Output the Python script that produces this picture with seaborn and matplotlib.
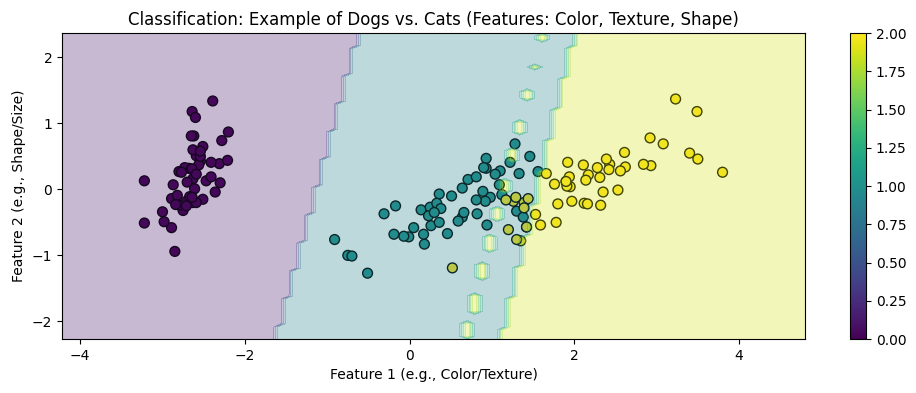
import numpy as np
import pandas as pd
import matplotlib
matplotlib.use("Agg")
import matplotlib.pyplot as plt
import seaborn as sns

# ---------- Data ----------

class0_x = [-2.68, -2.71, -2.89, -2.75, -2.73, -2.28, -2.82, -2.63, -2.89, -2.67,
            -2.51, -2.61, -2.79, -3.22, -2.64, -2.39, -2.62, -2.65, -2.20, -2.59,
            -2.31, -2.54, -3.22, -2.30, -2.36, -2.51, -2.47, -2.56, -2.64, -2.63,
            -2.59, -2.41, -2.65, -2.60, -2.64, -2.87, -2.63, -2.80, -2.98, -2.59,
            -2.77, -2.85, -3.00, -2.41, -2.21, -2.71, -2.54, -2.84, -2.54, -2.70]
class0_y = [0.32, -0.18, -0.14, -0.32, 0.33, 0.74, -0.09, 0.16, -0.58, -0.11,
            0.65, 0.01, -0.24, -0.51, 1.18, 1.34, 0.81, 0.31, 0.87, 0.51,
            0.39, 0.43, 0.13, 0.10, -0.04, -0.15, 0.13, 0.37, 0.31, -0.20,
            -0.20, 0.41, 0.81, 1.09, -0.12, 0.07, 0.60, 0.27, -0.49, 0.23,
            0.26, -0.94, -0.34, 0.19, 0.44, -0.25, 0.50, -0.23, 0.58, 0.11]

class1_x = [1.28, 0.93, 1.46, 0.18, 1.09, 0.64, 1.10, -0.75, 1.04, -0.01,
            -0.51, 0.51, 0.26, 0.98, -0.17, 0.93, 0.66, 0.24, 0.94, 0.05,
            1.12, 0.36, 1.30, 0.92, 0.71, 0.90, 1.33, 1.56, 0.81, -0.31,
            -0.07, -0.19, 0.14, 1.38, 0.59, 0.81, 1.22, 0.82, 0.25, 0.17,
            0.46, 0.89, 0.23, -0.70, 0.36, 0.33, 0.38, 0.64, -0.91, 0.30]
class1_y = [0.69, 0.32, 0.50, -0.83, 0.07, -0.42, 0.28, -1.00, 0.23, -0.72,
            -1.27, -0.10, -0.55, -0.12, -0.25, 0.47, -0.35, -0.33, -0.54, -0.58,
            -0.08, -0.07, -0.33, -0.18, 0.15, 0.33, 0.24, 0.27, -0.16, -0.37,
            -0.71, -0.68, -0.31, -0.42, -0.48, 0.19, 0.41, -0.37, -0.27, -0.68,
            -0.67, -0.03, -0.40, -1.01, -0.50, -0.21, -0.29, 0.02, -0.76, -0.35]

class2_x = [2.53, 1.42, 2.62, 1.97, 2.35, 3.40, 0.52, 2.93, 2.32, 2.92,
            1.66, 1.80, 2.17, 1.35, 1.59, 1.90, 1.95, 3.49, 3.80, 1.30,
            2.43, 1.20, 3.50, 1.39, 2.28, 2.61, 1.26, 1.29, 2.12, 2.39,
            2.84, 3.23, 2.16, 1.44, 1.78, 3.08, 2.14, 1.91, 1.17, 2.11,
            2.31, 1.92, 1.42, 2.56, 2.42, 1.94, 1.53, 1.76, 1.90, 1.39]
class2_y = [-0.01, -0.57, 0.34, -0.18, -0.04, 0.55, -1.19, 0.36, -0.24, 0.78,
            0.24, -0.22, 0.22, -0.78, -0.54, 0.12, 0.04, 1.18, 0.26, -0.76,
            0.38, -0.61, 0.46, -0.20, 0.33, 0.56, -0.18, -0.12, -0.21, 0.46,
            0.38, 1.37, -0.22, -0.14, -0.50, 0.69, 0.14, 0.05, -0.16, 0.37,
            0.18, 0.41, -0.57, 0.28, 0.30, 0.19, -0.38, 0.08, 0.12, -0.28]

# decision boundaries (x position at the bottom and top of the plot)
boundary_y = [-2.27, 2.37]
boundary01_x = [-1.62, -0.62]
boundary12_x = [1.12, 2.02]

# small isolated class-2 spots inside the class-1 region
island_x = [1.61, 1.51, 1.42, 1.31, 1.23, 1.17, 1.05, 0.96, 0.87, 0.79, 0.70]
island_y = [2.29, 1.86, 1.41, 0.95, 0.52, 0.06, -0.37, -0.82, -1.24, -1.72, -2.13]
island_h = [0.05, 0.04, 0.07, 0.10, 0.09, 0.09, 0.11, 0.12, 0.13, 0.13, 0.12]

x_range = [-4.22, 4.80]
y_range = [-2.27, 2.37]

# ---------- Build frames ----------

df = pd.DataFrame({
    "x": class0_x + class1_x + class2_x,
    "y": class0_y + class1_y + class2_y,
    "label": [0] * len(class0_x) + [1] * len(class1_x) + [2] * len(class2_x),
})

xs = np.linspace(x_range[0], x_range[1], 100)
ys = np.linspace(y_range[0], y_range[1], 100)
xx, yy = np.meshgrid(xs, ys)

b01 = np.interp(yy, boundary_y, boundary01_x)
b12 = np.interp(yy, boundary_y, boundary12_x)
zz = (xx > b01).astype(float) + (xx > b12).astype(float)

for cx, cy, ch in zip(island_x, island_y, island_h):
    col = np.argmin(np.abs(xs - cx))
    rows = np.abs(ys - cy) <= max(ch, (ys[1] - ys[0]) / 2)
    zz[rows, col] = 2

# ---------- Plot ----------

cmap = plt.get_cmap("viridis")
palette = {0: cmap(0.0), 1: cmap(0.5), 2: cmap(1.0)}

fig = plt.figure(figsize=(9.16, 3.93), dpi=100)
ax = fig.add_axes([0.0677, 0.137, 0.811, 0.779])
cax = fig.add_axes([0.928, 0.137, 0.0175, 0.779])

sns.scatterplot(data=df, x="x", y="y", hue="label", palette=palette, s=50,
                edgecolor="k", linewidth=1, legend=False, ax=ax)
ax.contourf(xx, yy, zz, alpha=0.3, cmap="viridis")

ax.set_xlim(x_range)
ax.set_ylim(y_range)
ax.set_title("Classification: Example of Dogs vs. Cats (Features: Color, Texture, Shape)")
ax.set_xlabel("Feature 1 (e.g., Color/Texture)")
ax.set_ylabel("Feature 2 (e.g., Shape/Size)")

sm = plt.cm.ScalarMappable(cmap="viridis", norm=plt.Normalize(0, 2))
fig.colorbar(sm, cax=cax)

fig.savefig("out.png", dpi=100)
